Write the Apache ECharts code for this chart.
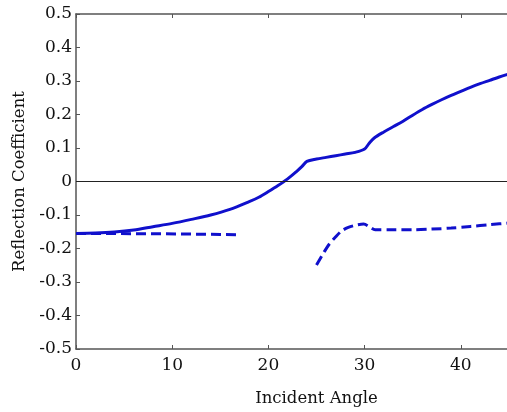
<!DOCTYPE html>
<html>
<head>
<meta charset="utf-8">
<script src="https://cdn.jsdelivr.net/npm/echarts@6/dist/echarts.min.js"></script>
<style>html,body{margin:0;padding:0;background:#fff;overflow:hidden;width:507px;height:412px;}#c{width:560px;height:412px;}</style>
</head>
<body>
<div id="c"></div>
<script>
var solidAngles = [0, 2, 4, 6, 8, 10, 12, 14, 16, 18, 19, 20, 21, 22, 23, 23.5, 24, 25, 26, 27, 28, 29, 30, 30.5, 31, 32, 33, 34, 35, 36, 37, 38, 39, 40, 41, 42, 43, 44, 45, 46];
var solidValues = [-0.155, -0.154, -0.151, -0.145, -0.135, -0.125, -0.113, -0.1, -0.083, -0.06, -0.047, -0.03, -0.012, 0.008, 0.032, 0.045, 0.06, 0.067, 0.072, 0.077, 0.082, 0.087, 0.097, 0.115, 0.13, 0.148, 0.164, 0.18, 0.198, 0.215, 0.23, 0.244, 0.257, 0.269, 0.281, 0.292, 0.302, 0.312, 0.321, 0.33];
var dashAngles1 = [0, 3, 6, 9, 12, 15, 17];
var dashValues1 = [-0.155, -0.155, -0.156, -0.156, -0.157, -0.158, -0.159];
var dashAngles2 = [25, 25.7, 26.3, 27, 27.6, 28.3, 29, 29.9, 30.5, 31.1, 33, 35, 37, 39, 41, 43, 45, 46];
var dashValues2 = [-0.249, -0.215, -0.188, -0.165, -0.148, -0.137, -0.131, -0.127, -0.135, -0.144, -0.144, -0.144, -0.142, -0.139, -0.134, -0.129, -0.124, -0.122];
var xTicks = [0, 10, 20, 30, 40];
var yTicks = [-0.5, -0.4, -0.3, -0.2, -0.1, 0, 0.1, 0.2, 0.3, 0.4, 0.5];

function pairs(xs, ys) { return xs.map(function (x, i) { return [x, ys[i]]; }); }

var chart = echarts.init(document.getElementById('c'), null, {renderer: 'canvas', width: 560, height: 412});
var font = 'DejaVu Serif';
var blue = '#1010cc';
chart.setOption({
  animation: false,
  backgroundColor: '#fff',
  grid: {left: 76, top: 14, right: 0.5, bottom: 60, containLabel: false},
  xAxis: [{
    type: 'value', min: 0, max: 50, interval: 10,
    name: 'Incident Angle', nameLocation: 'middle', nameGap: 41,
    nameTextStyle: {fontFamily: font, fontSize: 16.5, color: '#111'},
    axisLine: {show: true, onZero: false, lineStyle: {color: '#555', width: 1.5}},
    axisTick: {show: true, inside: true, length: 4, lineStyle: {color: '#555'}},
    axisLabel: {fontFamily: font, fontSize: 17, color: '#111', margin: 8,
      formatter: function (v) { return xTicks.indexOf(v) >= 0 ? String(v) : ''; }},
    splitLine: {show: false}
  }, {
    type: 'value', min: 0, max: 50, interval: 10, position: 'top',
    axisLine: {show: true, onZero: false, lineStyle: {color: '#555', width: 1.5}},
    axisTick: {show: true, inside: true, length: 4, lineStyle: {color: '#555'}},
    axisLabel: {show: false}, splitLine: {show: false}
  }],
  yAxis: [{
    type: 'value', min: -0.5, max: 0.5, interval: 0.1,
    name: 'Reflection Coefficient', nameLocation: 'middle', nameGap: 42,
    nameTextStyle: {fontFamily: font, fontSize: 16.5, color: '#111'},
    axisLine: {show: true, onZero: false, lineStyle: {color: '#555', width: 1.5}},
    axisTick: {show: true, inside: true, length: 4, lineStyle: {color: '#555'}},
    axisLabel: {fontFamily: font, fontSize: 17, color: '#111', margin: 4,
      formatter: function (v) {
        var r = Math.round(v * 10) / 10;
        return yTicks.indexOf(r) >= 0 ? String(r) : '';
      }},
    splitLine: {show: false}
  }],
  series: [{
    type: 'line', data: pairs(solidAngles, solidValues), showSymbol: false, smooth: 0.3,
    lineStyle: {color: blue, width: 3}, z: 3,
    markLine: {silent: true, symbol: 'none', label: {show: false},
      lineStyle: {color: '#222', width: 1, type: 'solid'}, data: [{yAxis: 0}]}
  }, {
    type: 'line', data: pairs(dashAngles1, dashValues1), showSymbol: false,
    lineStyle: {color: blue, width: 3, type: [10, 5]}, z: 2
  }, {
    type: 'line', data: pairs(dashAngles2, dashValues2), showSymbol: false, smooth: 0.3,
    lineStyle: {color: blue, width: 3, type: [10, 5]}, z: 2
  }]
});
</script>
</body>
</html>
